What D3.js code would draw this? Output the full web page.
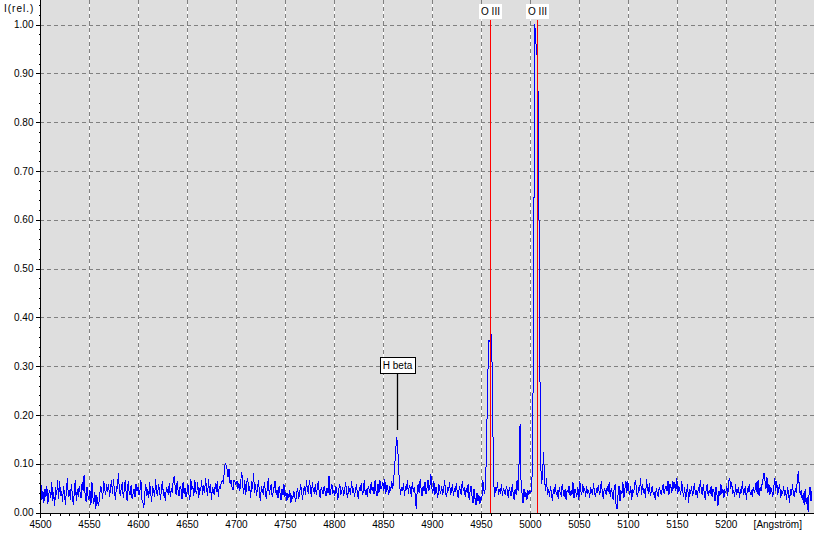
<!DOCTYPE html>
<html>
<head>
<meta charset="utf-8">
<script src="https://cdn.jsdelivr.net/npm/d3@7"></script>
<style>
  body { margin: 0; background: #fff; }
  svg { display: block; font-family: "Liberation Sans", Arial, sans-serif; }
</style>
</head>
<body>
<div id="chart"></div>
<script>
// ===============================
// DATOS (intensidad relativa x 1000, paso de 1 Angström desde 4500)
// ===============================
const startWl = 4500;

const seg4500 = [
  36, 58, 26, 44, 20, 49, 32, 54, 18, 39,
  46, 29, 62, 23, 41, 13, 52, 35, 66, 27,
  65, 33, 44, 22, 55, 39, 15, 49, 70, 31,
  45, 26, 59, 36, 15, 41, 67, 24, 48, 32,
  54, 40, 29, 62, 44, 76, 37, 22, 52, 33,
  26, 45, 16, 62, 31, 18, 41, 8, 35, 19,
  15, 39, 54, 46, 27, 65, 49, 36, 58, 42,
  58, 32, 50, 67, 39, 68, 44, 26, 53, 48,
  80, 46, 33, 52, 62, 29, 45, 67, 39, 23,
  65, 41, 35, 57, 27, 39, 49, 32, 59, 44
];
const seg4600 = [
  52, 36, 44, 66, 26, 20, 10, 41, 58, 33,
  48, 29, 62, 39, 22, 54, 44, 32, 68, 40,
  36, 58, 46, 26, 50, 65, 33, 42, 23, 53,
  45, 37, 61, 31, 49, 41, 67, 75, 52, 36,
  65, 44, 33, 55, 48, 27, 62, 39, 50, 32,
  41, 58, 36, 26, 68, 46, 54, 33, 67, 44,
  39, 62, 29, 50, 45, 66, 35, 57, 41, 70,
  49, 33, 68, 40, 58, 26, 52, 44, 36, 61,
  42, 65, 32, 54, 48, 62, 66, 62, 80, 101,
  96, 88, 72, 90, 58, 66, 52, 46, 66, 62
];
const seg4700 = [
  57, 65, 49, 61, 44, 67, 82, 53, 39, 66,
  35, 62, 70, 45, 54, 29, 65, 48, 80, 41,
  58, 33, 50, 67, 39, 23, 55, 45, 36, 63,
  44, 27, 52, 70, 37, 48, 59, 32, 41, 53,
  65, 36, 46, 29, 54, 40, 26, 49, 35, 58,
  32, 41, 23, 39, 29, 46, 19, 36, 27, 44,
  33, 22, 40, 49, 28, 37, 58, 42, 26, 48,
  54, 36, 67, 45, 39, 67, 50, 32, 62, 44,
  40, 58, 35, 49, 65, 41, 29, 52, 46, 37,
  55, 44, 33, 50, 40, 75, 36, 48, 58, 39
];
const seg4800 = [
  45, 35, 54, 42, 26, 49, 59, 37, 44, 52,
  33, 48, 62, 40, 29, 54, 45, 36, 65, 41,
  50, 32, 46, 58, 39, 27, 53, 44, 61, 36,
  42, 67, 35, 49, 31, 55, 46, 39, 62, 45,
  52, 37, 66, 44, 33, 58, 41, 66, 48, 54,
  62, 45, 68, 39, 57, 48, 36, 54, 44, 65,
  49, 67, 95, 125, 154, 140, 92, 58, 36, 52,
  44, 61, 33, 54, 46, 66, 39, 57, 49, 32,
  63, 42, 52, 36, 8, 45, 58, 40, 68, 48,
  33, 54, 44, 62, 39, 50, 67, 45, 55, 78
];
const seg4900 = [
  49, 41, 65, 35, 53, 44, 29, 59, 46, 39,
  55, 36, 48, 67, 40, 32, 52, 45, 62, 37,
  44, 58, 33, 50, 42, 61, 39, 29, 54, 46,
  36, 65, 45, 52, 32, 49, 41, 58, 26, 44,
  54, 33, 19, 48, 29, 15, 40, 23, 36, 17,
  32, 26, 67, 45, 39, 70, 165, 270, 352, 350,
  360, 366, 210, 65, 32, 52, 44, 62, 36, 48,
  39, 58, 33, 50, 42, 36, 54, 45, 29, 52,
  41, 33, 58, 39, 26, 49, 36, 67, 45, 103,
  182, 65, 39, 19, 49, 32, 41, 26, 45, 36
];
const seg5000 = [
  44, 40, 50, 164, 527, 1000, 968, 940, 930, 725,
  360, 103, 58, 80, 124, 65, 45, 70, 36, 49,
  32, 54, 42, 23, 48, 39, 58, 35, 45, 28,
  52, 40, 36, 59, 44, 32, 49, 26, 46, 41,
  55, 35, 45, 37, 62, 29, 48, 41, 33, 53,
  26, 65, 44, 36, 58, 41, 49, 32, 54, 39,
  46, 29, 52, 42, 36, 61, 40, 32, 49, 44,
  57, 35, 45, 65, 39, 28, 50, 44, 36, 54,
  42, 62, 32, 49, 40, 26, 48, 58, 15, 8,
  36, 54, 24, 45, 39, 62, 29, 48, 65, 41
];
const seg5100 = [
  65, 45, 36, 54, 26, 49, 40, 59, 67, 39,
  32, 52, 44, 70, 36, 58, 41, 48, 29, 68,
  52, 39, 61, 33, 45, 54, 36, 42, 26, 49,
  40, 32, 52, 44, 36, 48, 58, 39, 49, 54,
  45, 65, 36, 59, 52, 41, 65, 49, 62, 44,
  70, 39, 54, 46, 35, 65, 44, 32, 52, 26,
  41, 58, 19, 49, 39, 54, 33, 44, 61, 36,
  46, 29, 52, 40, 67, 45, 36, 58, 41, 26,
  49, 59, 35, 45, 39, 54, 32, 48, 42, 23,
  52, 36, 13, 44, 33, 58, 39, 48, 29, 45
];
const seg5200 = [
  41, 54, 33, 65, 70, 49, 62, 39, 46, 32,
  58, 36, 44, 52, 29, 48, 40, 65, 35, 45,
  54, 26, 49, 42, 59, 36, 45, 32, 52, 41,
  48, 62, 39, 67, 33, 52, 44, 58, 68, 80,
  65, 49, 72, 41, 58, 36, 52, 45, 32, 54,
  70, 44, 65, 36, 49, 58, 29, 46, 39, 54,
  33, 45, 26, 52, 41, 19, 48, 36, 58, 39,
  32, 49, 41, 65, 85, 52, 36, 45, 26, 39,
  15, 49, 18, 32, 2, 39, 52, 23, 45
];

// ejes
const xTicks = [4500, 4550, 4600, 4650, 4700, 4750, 4800, 4850, 4900, 4950, 5000, 5050, 5100, 5150, 5200, 5250];
const yTicks = [0, 0.1, 0.2, 0.3, 0.4, 0.5, 0.6, 0.7, 0.8, 0.9, 1.0];
const xUnit = '[Angström]';
const yUnit = 'I(rel.)';

// lineas identificadas
const marcas = [
  { wl: 4959, label: 'O III', color: 'red' },
  { wl: 5007, label: 'O III', color: 'red' }
];
const hbeta = { wl: 4864, label: 'H beta', boxVal: 0.302, lineEnd: 0.169 };

// ===============================
// RENDER
// ===============================
const spectrum = [].concat(seg4500, seg4600, seg4700, seg4800, seg4900, seg5000, seg5100, seg5200)
  .map((v, i) => ({ wl: startWl + i, val: v / 1000 }));

const width = 814, height = 534;
const left = 40, right = 813, bottom = 513;

const svg = d3.select('#chart').append('svg')
  .attr('width', width)
  .attr('height', height);

const x = d3.scaleLinear().domain([4500, 5289]).range([left, right]);
const y = d3.scaleLinear().domain([0, 1]).range([512.5, 24.5]);

// fondo
svg.append('rect')
  .attr('x', left).attr('y', 0)
  .attr('width', width - left).attr('height', bottom)
  .attr('fill', '#dedede');

// rejilla
const grid = svg.append('g').attr('shape-rendering', 'crispEdges');
const vgrid = xTicks.filter(d => d > 4500);
grid.selectAll('.vw').data(vgrid).enter().append('line')
  .attr('x1', d => Math.round(x(d)) + 0.5).attr('x2', d => Math.round(x(d)) + 0.5)
  .attr('y1', 0).attr('y2', bottom)
  .attr('stroke', '#fff');
grid.selectAll('.vg').data(vgrid).enter().append('line')
  .attr('x1', d => Math.round(x(d)) + 0.5).attr('x2', d => Math.round(x(d)) + 0.5)
  .attr('y1', 0).attr('y2', bottom)
  .attr('stroke', '#808080')
  .attr('stroke-dasharray', '4,3');
grid.selectAll('.hg').data(yTicks.filter(d => d > 0)).enter().append('line')
  .attr('x1', left).attr('x2', width)
  .attr('y1', d => Math.round(y(d)) + 0.5).attr('y2', d => Math.round(y(d)) + 0.5)
  .attr('stroke', '#808080')
  .attr('stroke-dasharray', '4,3');

// espectro
svg.append('path')
  .datum(spectrum)
  .attr('fill', 'none')
  .attr('stroke', '#0000ff')
  .attr('stroke-width', 1)
  .attr('shape-rendering', 'crispEdges')
  .attr('d', d3.line().x(d => x(d.wl)).y(d => y(d.val)));

// lineas O III
svg.selectAll('.marca').data(marcas).enter().append('line')
  .attr('x1', d => Math.round(x(d.wl)) + 0.5).attr('x2', d => Math.round(x(d.wl)) + 0.5)
  .attr('y1', 20).attr('y2', bottom)
  .attr('stroke', d => d.color)
  .attr('shape-rendering', 'crispEdges');

marcas.forEach(m => {
  const cx = Math.round(x(m.wl)) + 0.5;
  const g = svg.append('g');
  const t = g.append('text')
    .attr('x', cx).attr('y', 15)
    .attr('text-anchor', 'middle')
    .attr('font-size', 10)
    .text(m.label);
  const bb = t.node().getBBox();
  g.insert('rect', 'text')
    .attr('x', Math.round(bb.x) - 2).attr('y', 4)
    .attr('width', Math.round(bb.width) + 4).attr('height', 15)
    .attr('fill', '#fff');
});

// etiqueta H beta
{
  const cx = Math.round(x(hbeta.wl)) + 0.5;
  const cy = y(hbeta.boxVal);
  svg.append('line')
    .attr('x1', cx).attr('x2', cx)
    .attr('y1', cy + 8).attr('y2', y(hbeta.lineEnd))
    .attr('stroke', '#000').attr('stroke-width', 1.3);
  const g = svg.append('g');
  const t = g.append('text')
    .attr('x', cx).attr('y', cy + 4)
    .attr('text-anchor', 'middle')
    .attr('font-size', 10)
    .text(hbeta.label);
  const bb = t.node().getBBox();
  g.insert('rect', 'text')
    .attr('x', Math.round(bb.x) - 2.5).attr('y', Math.round(cy - 8) + 0.5)
    .attr('width', Math.round(bb.width) + 5).attr('height', 16)
    .attr('fill', '#fff').attr('stroke', '#000')
    .attr('shape-rendering', 'crispEdges');
}

// ejes
const yMinor = d3.range(0, 1.041, 0.02);
svg.append('g')
  .attr('transform', `translate(${left + 0.5},0)`)
  .call(d3.axisLeft(y).tickValues(yMinor).tickSize(2).tickFormat(''))
  .call(g => g.select('.domain').remove());
svg.append('g')
  .attr('transform', `translate(${left + 0.5},0)`)
  .call(d3.axisLeft(y).tickValues(yTicks).tickSize(5).tickPadding(2).tickFormat(d3.format('.2f')))
  .call(g => g.select('.domain').remove())
  .call(g => g.selectAll('text').attr('font-size', 10).attr('font-family', null).attr('fill', '#000'));

const xMinor = d3.range(4500, 5290, 10);
svg.append('g')
  .attr('transform', `translate(0,${bottom + 0.5})`)
  .call(d3.axisBottom(x).tickValues(xMinor).tickSize(2).tickFormat(''))
  .call(g => g.select('.domain').remove());
svg.append('g')
  .attr('transform', `translate(0,${bottom + 0.5})`)
  .call(d3.axisBottom(x).tickValues(xTicks).tickSize(4).tickPadding(3)
    .tickFormat(d => d === 5250 ? '' : d))
  .call(g => g.select('.domain').remove())
  .call(g => g.selectAll('text').attr('font-size', 10).attr('font-family', null).attr('fill', '#000'));

svg.selectAll('.tick line').attr('shape-rendering', 'crispEdges');

// lineas de eje
svg.append('line')
  .attr('x1', left + 0.5).attr('x2', left + 0.5).attr('y1', 0).attr('y2', bottom + 1)
  .attr('stroke', '#000').attr('shape-rendering', 'crispEdges');
svg.append('line')
  .attr('x1', left).attr('x2', width).attr('y1', bottom + 0.5).attr('y2', bottom + 0.5)
  .attr('stroke', '#000').attr('shape-rendering', 'crispEdges');

// unidades
svg.append('text')
  .attr('x', 4).attr('y', 12)
  .attr('font-size', 10)
  .attr('letter-spacing', 1)
  .text(yUnit);
svg.append('text')
  .attr('x', x(5250) + 3).attr('y', 528)
  .attr('text-anchor', 'middle')
  .attr('font-size', 10)
  .text(xUnit);
</script>
</body>
</html>
